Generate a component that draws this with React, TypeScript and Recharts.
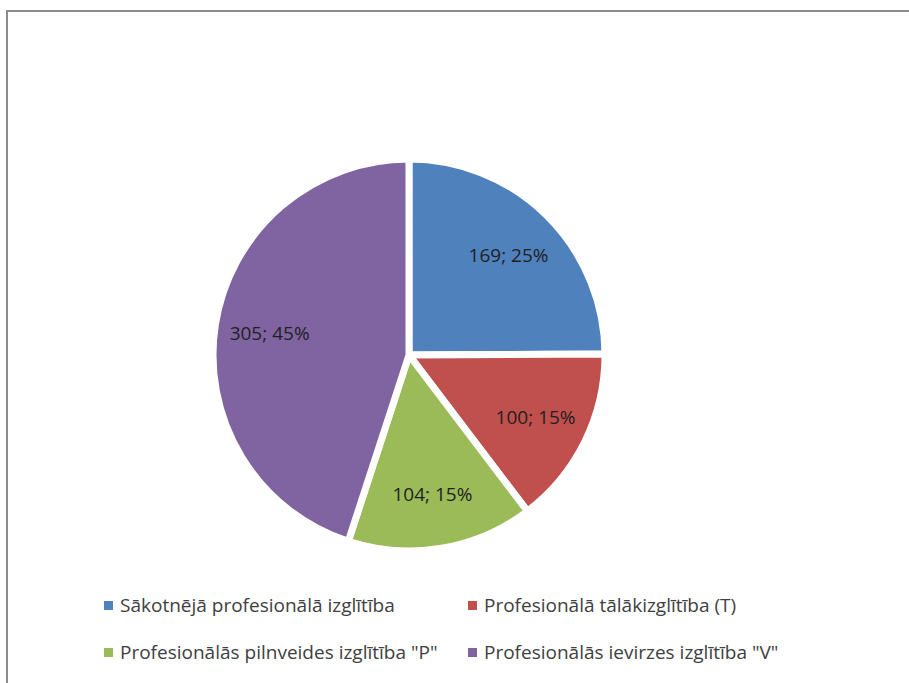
import { PieChart, Pie, Cell, Legend } from 'recharts';

const categories = [
  'Sākotnējā profesionālā izglītība',
  'Profesionālā tālākizglītība (T)',
  'Profesionālās pilnveides izglītība "P"',
  'Profesionālās ievirzes izglītība "V"',
];
const counts = [169, 100, 104, 305];
const percents = [25, 15, 15, 45];

const COLORS = ['#4F81BD', '#C0504D', '#9BBB59', '#8064A2'];
const FONT = '"Open Sans", "Noto Sans", sans-serif';

const data = categories.map((name, i) => ({ name, value: counts[i], pct: percents[i] }));

const RAD = Math.PI / 180;

const renderLabel = (props: any) => {
  const { cx, cy, midAngle, outerRadius, index } = props;
  const r = outerRadius * 0.72;
  const x = cx + r * Math.cos(-midAngle * RAD);
  const y = cy + r * Math.sin(-midAngle * RAD);
  return (
    <text
      x={x}
      y={y}
      fill="#1f1f1f"
      textAnchor="middle"
      dominantBaseline="central"
      style={{ fontFamily: FONT, fontSize: 19 }}
    >
      {`${counts[index]}; ${percents[index]}%`}
    </text>
  );
};

// legend keeps the original series order
const renderLegend = () => (
  <div
    style={{
      display: 'grid',
      gridTemplateColumns: '364px 380px',
      rowGap: 25,
      fontFamily: FONT,
      fontSize: 19,
      color: '#404040',
    }}
  >
    {categories.map((name, i) => (
      <div key={`leg-${i}`} style={{ display: 'flex', alignItems: 'center', height: 22, whiteSpace: 'nowrap' }}>
        <span
          style={{
            display: 'inline-block',
            width: 9,
            height: 9,
            background: COLORS[i],
            marginRight: 7,
          }}
        />
        <span>{name}</span>
      </div>
    ))}
  </div>
);

export default function App() {
  return (
    <>
      <style>{'html,body{margin:0;overflow:hidden;}'}</style>
      <div
        style={{
          position: 'absolute',
          left: 6,
          top: 10,
          width: 940,
          height: 700,
          borderLeft: '2px solid #8c8c8c',
          borderTop: '2px solid #8c8c8c',
          background: '#fff',
          boxSizing: 'border-box',
        }}
      >
        <PieChart width={880} height={670}>
          <Pie
            data={data}
            dataKey="value"
            nameKey="name"
            cx={396}
            cy={338}
            outerRadius={196}
            startAngle={90}
            endAngle={-270}
            stroke="#ffffff"
            strokeWidth={7}
            labelLine={false}
            label={renderLabel}
            isAnimationActive={false}
          >
            {data.map((entry, index) => (
              <Cell key={`cell-${index}`} fill={COLORS[index % COLORS.length]} />
            ))}
          </Pie>
          <Legend
            content={renderLegend}
            wrapperStyle={{ position: 'absolute', left: 96, top: 582, width: 780 }}
          />
        </PieChart>
      </div>
    </>
  );
}
